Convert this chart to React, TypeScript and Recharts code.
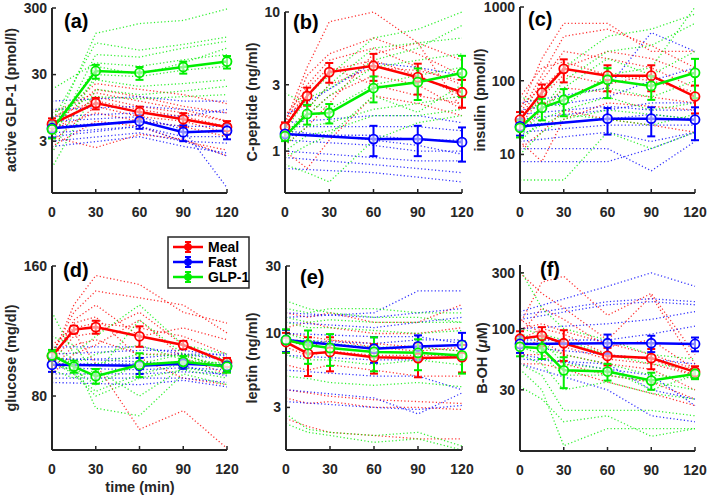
import React from "react";
import { LineChart, Line, XAxis, YAxis, ErrorBar } from "recharts";

type Num = number | null;

const RED = "#ff0000";
const BLUE = "#0000ff";
const GREEN = "#00ee00";
const AXIS = "#262626";
const FONT = "'Liberation Sans', Arial, Helvetica, sans-serif";

const X_TICKS = [0, 30, 60, 90, 120];
const timesA = [0, 30, 60, 90, 120];
const timesFull = [0, 15, 30, 60, 90, 120];

// (a) active GLP-1 (pmol/l)
const glp1MealMean = [5.4, 11.2, 8.2, 6.4, 4.9];
const glp1MealSem = [1.2, 2.2, 1.7, 1.5, 1.1];
const glp1FastMean = [4.7, null, 6.0, 4.1, 4.3];
const glp1FastSem = [1.3, null, 1.4, 1.1, 1.1];
const glp1InfMean = [4.5, 34, 32, 39, 47];
const glp1InfSem = [1.2, 8, 7, 8, 10];
const glp1MealSubj = [
  [6, 22, 18, 15, 11], [5, 18, 14, 10, 8], [4, 14, 10, 8, 6],
  [7, 12, 9, 7, 5], [3, 10, 7, 6, 4], [4.5, 8, 6, 5, 3.5],
  [2.5, 6, 5, 3, 2.2], [3.5, 2.4, 3.8, 3.2, 1.8], [8, 16, 12, 9, 6],
];
const glp1FastSubj = [
  [12, null, 14, 12, 12], [9, null, 10, 9, 8], [7, null, 8, 7, 9],
  [5, null, 6, 5, 5], [4, null, 5, 3.5, 3.5], [3, null, 4, 3, 2.8],
  [2.5, null, 3.5, 2.5, 2], [6, null, 7, 4.5, 0.6], [3.5, null, 5, 3, 1.8],
];
const glp1InfSubj = [
  [4, 125, 175, 195, 290], [6, 90, 70, 85, 110], [3, 60, 55, 75, 95],
  [18, 45, 40, 50, 60], [2, 30, 28, 35, 40], [5, 25, 20, 22, 25],
  [1.2, 18, 15, 17, 20], [8, 14, 13, 14, 15], [3.5, 40, 30, 45, 75],
];

// (b) C-peptide (ng/ml)
const cpepMealMean = [1.49, 2.49, 3.7, 4.1, 3.4, 2.65];
const cpepMealSem = [0.12, 0.37, 0.6, 0.9, 0.85, 0.6];
const cpepFastMean = [1.33, null, null, 1.22, 1.22, 1.16];
const cpepFastSem = [0.07, null, null, 0.3, 0.3, 0.32];
const cpepInfMean = [1.28, 1.85, 1.88, 2.84, 3.13, 3.64];
const cpepInfSem = [0.1, 0.3, 0.3, 0.6, 0.8, 1.2];
const cpepMealSubj = [
  [1.6, 4, 8.5, 10, 6, 4.5], [1.5, 3.5, 5, 6.5, 5, 3.5], [1.4, 3, 4.5, 5.5, 4, 3],
  [1.7, 2.5, 3.8, 4.5, 3.5, 2.5], [1.2, 2, 3, 4, 3.8, 3.2], [1.3, 1.8, 2.5, 3.5, 3, 2],
  [1.0, 0.75, 1.2, 2.5, 2.2, 1.8], [1.8, 2.8, 4, 3, 2.5, 2.2], [1.1, 1.5, 2.2, 5, 6, 2],
];
const cpepFastSubj = [
  [1.8, null, null, 4.3, 4, 3.5], [1.6, null, null, 1.8, 1.8, 1.6], [1.5, null, null, 1.5, 1.5, 1.4],
  [1.3, null, null, 1.3, 1.2, 1.2], [1.2, null, null, 1.1, 1.0, 1.0], [1.0, null, null, 0.9, 0.85, 0.85],
  [0.9, null, null, 0.8, 0.75, 0.7], [0.75, null, null, 0.7, 0.65, 0.6], [1.4, null, null, 1.2, 1.1, 0.95],
];
const cpepInfSubj = [
  [1.5, 2.5, 3.5, 6.5, 7.5, 10], [1.3, 2, 3, 5.5, 6, 6.5], [1.2, 1.8, 2.5, 4, 4.5, 5],
  [2.6, 2.2, 2, 3, 3.5, 4], [1.1, 1.5, 1.6, 2, 2.2, 2.5], [1.0, 1.3, 1.4, 1.8, 1.8, 2],
  [0.8, 0.7, 0.6, 1.2, 1.6, 1.8], [1.4, 2.4, 2.8, 4.5, 5.5, 8], [0.9, 1.1, 1.3, 2.5, 1.9, 3],
];

// (c) insulin (pmol/l)
const insMealMean = [29.6, 69, 145, 117, 117, 61];
const insMealSem = [8, 20, 50, 45, 45, 25];
const insFastMean = [24, null, null, 30.6, 30.6, 29.6];
const insFastSem = [6, null, null, 12, 13, 14];
const insInfMean = [23, 43, 55, 103, 85, 128];
const insInfSem = [6, 14, 22, 45, 30, 70];
const insMealSubj = [
  [40, 200, 600, 600, 250, 250], [35, 120, 400, 500, 300, 150], [30, 100, 250, 200, 150, 80],
  [60, 150, 180, 120, 100, 70], [25, 60, 120, 90, 120, 60], [20, 40, 80, 70, 60, 50],
  [15, 8, 30, 50, 45, 40], [12, 20, 40, 30, 25, 20], [45, 80, 150, 250, 200, 120],
];
const insFastSubj = [
  [50, null, null, 80, 450, 250], [40, null, null, 60, 100, 150], [30, null, null, 40, 50, 50],
  [25, null, null, 30, 35, 30], [20, null, null, 25, 25, 25], [15, null, null, 20, 15, 20],
  [12, null, null, 12, 6, 15], [8, null, null, 8, 12, 20], [35, null, null, 45, 40, 40],
];
const insInfSubj = [
  [30, 60, 150, 400, 500, 800], [25, 40, 100, 250, 300, 600], [20, 35, 80, 200, 120, 250],
  [60, 50, 60, 80, 60, 100], [15, 30, 40, 60, 40, 50], [10, 20, 30, 40, 35, 30],
  [4.5, 4.5, 4.5, 20, 12, 20], [35, 50, 45, 120, 150, 1000], [18, 25, 35, 30, 25, 35],
];

// (d) glucose (mg/dl)
const glucMealMean = [98.9, 114, 115.5, 110, 105, 95.7];
const glucMealSem = [2, 2.3, 4, 6, 2.3, 2.3];
const glucFastMean = [94.5, null, null, 94, 95, 94];
const glucFastSem = [3.5, null, null, 4, 2.5, 2.5];
const glucInfMean = [99.3, 93.6, 88.9, 94.5, 96, 93.6];
const glucInfSem = [3, 3, 3.5, 6, 3, 3];
const glucMealSubj = [
  [98, 130, 152, 145, 125, 118], [100, 125, 140, 135, 130, 112], [95, 120, 130, 110, 115, 108],
  [105, 115, 118, 115, 110, 100], [96, 110, 112, 125, 105, 95], [92, 105, 108, 100, 100, 92],
  [100, 112, 95, 67, 74, 60.5], [102, 118, 122, 98, 88, 85], [90, 100, 105, 120, 98, 90],
];
const glucFastSubj = [
  [104, null, null, 104, 100, 100], [100, null, null, 102, 102, 99], [97, null, null, 98, 100, 97],
  [95, null, null, 95, 96, 94], [93, null, null, 92, 93, 92], [90, null, null, 90, 91, 90],
  [88, null, null, 88, 88, 86], [86, null, null, 85, 87, 84], [98, null, null, 96, 94, 89],
];
const glucInfSubj = [
  [125, 100, 110, 130, 105, 100], [110, 105, 90, 120, 100, 98], [100, 95, 100, 105, 97, 95],
  [95, 92, 85, 95, 100, 92], [98, 90, 82, 90, 95, 96], [105, 97, 75, 72, 90, 85],
  [92, 88, 92, 80, 93, 90], [100, 94, 95, 100, 99, 94], [96, 90, 80, 88, 92, 88],
];

// (e) leptin (ng/ml)
const lepMealMean = [8.7, 7.2, 7.4, 6.8, 6.7, 6.8];
const lepMealSem = [1.4, 2.2, 2.0, 1.6, 1.8, 1.5];
const lepFastMean = [9.0, null, null, 7.8, 8.1, 8.3];
const lepFastSem = [1.6, null, null, 1.6, 1.6, 1.8];
const lepInfMean = [9.0, 8.3, 7.9, 7.4, 7.3, 7.0];
const lepInfSem = [1.7, 2.2, 2.0, 2.0, 1.8, 1.8];
const lepMealSubj = [
  [14, 13, 14, 12, 12, 16], [11, 12, 11, 10, 10, 11], [9, 8, 9, 8, 7.5, 8],
  [8, 7, 7.5, 7, 7, 7], [6, 5.5, 6, 5.5, 5, 5], [4, 3.8, 3.6, 3.4, 3.3, 3.2],
  [3.5, 3.2, 3.3, 3, 3, 2.9], [2.5, 2.2, 2, 1.9, 1.8, 1.8], [10, 9.5, 9, 8.5, 8, 7.5],
];
const lepFastSubj = [
  [13, null, null, 14, 20, 20], [14, null, null, 13, 14, 15], [12, null, null, 11, 12, 13],
  [9, null, null, 8.5, 9, 9], [7, null, null, 6.5, 6.5, 7], [5.5, null, null, 5, 5, 4],
  [4, null, null, 3.5, 2.7, 3.8], [3.3, null, null, 3, 2.9, 3.1], [10, null, null, 9.5, 9.5, 8.5],
];
const lepInfSubj = [
  [17, 15, 14, 13, 13, 12], [15, 14, 15, 15, 14, 14], [12, 11, 11, 10.5, 10, 10.5],
  [10, 9, 8.5, 8, 8, 7.5], [7, 6.5, 6.5, 6, 6.5, 6], [5, 4.8, 4.5, 4.3, 4.5, 4.2],
  [2.7, 2.1, 2, 1.9, 2, 1.6], [2.3, 2, 1.9, 1.7, 1.8, 1.5], [13, 12, 12.5, 12, 12, 12],
];

// (f) B-OH (uM)
const bohMealMean = [82, 87, 75, 58.5, 56, 42.7];
const bohMealSem = [13, 16, 22, 10, 11, 5];
const bohFastMean = [74, null, null, 75, 75, 74];
const bohFastSem = [12, null, null, 14, 12, 10];
const bohInfMean = [70, 68, 44, 43, 36, 41];
const bohInfSem = [12, 13, 13, 7, 6, 4];
const bohMealSubj = [
  [110, 250, 280, 130, 200, 60], [300, 200, 150, 80, 190, 50], [90, 150, 120, 70, 80, 45],
  [80, 100, 90, 60, 55, 40], [70, 80, 60, 50, 45, 30], [60, 60, 50, 40, 35, 25],
  [50, 50, 45, 35, 28, 22], [120, 90, 70, 55, 50, 40], [100, 110, 95, 75, 60, 45],
];
const bohFastSubj = [
  [140, null, null, 230, 300, 230], [130, null, null, 170, 180, 170], [120, null, null, 160, 170, 160],
  [100, null, null, 110, 120, 140], [80, null, null, 80, 90, 105], [70, null, null, 60, 55, 50],
  [55, null, null, 50, 30, 25], [50, null, null, 30, 18, 16], [60, null, null, 45, 40, 22],
];
const bohInfSubj = [
  [320, 150, 100, 80, 60, 55], [100, 90, 80, 60, 50, 45], [80, 70, 60, 50, 40, 38],
  [70, 60, 40, 40, 35, 30], [60, 50, 30, 35, 28, 25], [50, 40, 20, 20, 20, 18],
  [32, 25, 16, 18, 12, 14], [45, 30, 10, 14, 14, 14], [90, 80, 50, 45, 30, 40],
];

interface PanelSpec {
  times: number[];
  meal: Num[]; mealSem: Num[];
  fast: Num[]; fastSem: Num[];
  inf: Num[]; infSem: Num[];
  mealSubj: Num[][]; fastSubj: Num[][]; infSubj: Num[][];
  domain: [number, number];
  yTicks: number[];
  left: number; top: number; width: number; height: number;
}

const panels: PanelSpec[] = [
  { times: timesA, meal: glp1MealMean, mealSem: glp1MealSem, fast: glp1FastMean, fastSem: glp1FastSem,
    inf: glp1InfMean, infSem: glp1InfSem, mealSubj: glp1MealSubj, fastSubj: glp1FastSubj, infSubj: glp1InfSubj,
    domain: [0.5, 300], yTicks: [3, 30, 300], left: 52, top: 8, width: 175, height: 185 },
  { times: timesFull, meal: cpepMealMean, mealSem: cpepMealSem, fast: cpepFastMean, fastSem: cpepFastSem,
    inf: cpepInfMean, infSem: cpepInfSem, mealSubj: cpepMealSubj, fastSubj: cpepFastSubj, infSubj: cpepInfSubj,
    domain: [0.5, 10], yTicks: [1, 3, 10], left: 285, top: 12, width: 177, height: 181 },
  { times: timesFull, meal: insMealMean, mealSem: insMealSem, fast: insFastMean, fastSem: insFastSem,
    inf: insInfMean, infSem: insInfSem, mealSubj: insMealSubj, fastSubj: insFastSubj, infSubj: insInfSubj,
    domain: [3, 1000], yTicks: [10, 100, 1000], left: 520, top: 7, width: 175, height: 186 },
  { times: timesFull, meal: glucMealMean, mealSem: glucMealSem, fast: glucFastMean, fastSem: glucFastSem,
    inf: glucInfMean, infSem: glucInfSem, mealSubj: glucMealSubj, fastSubj: glucFastSubj, infSubj: glucInfSubj,
    domain: [60, 160], yTicks: [80, 160], left: 52, top: 266, width: 175, height: 184 },
  { times: timesFull, meal: lepMealMean, mealSem: lepMealSem, fast: lepFastMean, fastSem: lepFastSem,
    inf: lepInfMean, infSem: lepInfSem, mealSubj: lepMealSubj, fastSubj: lepFastSubj, infSubj: lepInfSubj,
    domain: [1.5, 30], yTicks: [3, 10, 30], left: 286, top: 266, width: 176, height: 184 },
  { times: timesFull, meal: bohMealMean, mealSem: bohMealSem, fast: bohFastMean, fastSem: bohFastSem,
    inf: bohInfMean, infSem: bohInfSem, mealSubj: bohMealSubj, fastSubj: bohFastSubj, infSubj: bohInfSubj,
    domain: [9, 350], yTicks: [30, 100, 300], left: 520, top: 265, width: 175, height: 186 },
];

const buildRows = (p: PanelSpec) =>
  p.times.map((t, i) => {
    const row: Record<string, Num> = { t };
    row.meal = p.meal[i];
    row.mealErr = p.mealSem[i];
    row.fast = p.fast[i];
    row.fastErr = p.fastSem[i];
    row.inf = p.inf[i];
    row.infErr = p.infSem[i];
    p.mealSubj.forEach((s, k) => (row[`m${k}`] = s[i]));
    p.fastSubj.forEach((s, k) => (row[`f${k}`] = s[i]));
    p.infSubj.forEach((s, k) => (row[`g${k}`] = s[i]));
    return row;
  });

const YTick = (props: any) => {
  const { x, y, payload } = props;
  return (
    <g>
      <line x1={x} x2={x + 4} y1={y} y2={y} stroke={AXIS} strokeWidth={1.5} />
      <text x={x - 5} y={y} dy="0.35em" textAnchor="end" fontFamily={FONT} fontWeight="bold" fontSize={14} fill={AXIS}>
        {payload.value}
      </text>
    </g>
  );
};

const XTick = (props: any) => {
  const { x, y, payload } = props;
  return (
    <g>
      <line x1={x} x2={x} y1={y} y2={y - 4} stroke={AXIS} strokeWidth={1.5} />
      <text x={x} y={y + 19} dy="0.35em" textAnchor="middle" fontFamily={FONT} fontWeight="bold" fontSize={14} fill={AXIS}>
        {payload.value}
      </text>
    </g>
  );
};

const subjLines = (prefix: string, count: number, color: string) =>
  Array.from({ length: count }, (_, k) => (
    <Line
      key={`${prefix}${k}`}
      dataKey={`${prefix}${k}`}
      stroke={color}
      strokeWidth={1.3}
      strokeOpacity={0.8}
      strokeDasharray="1.2 2.3"
      dot={false}
      activeDot={false}
      connectNulls
      isAnimationActive={false}
    />
  ));

const meanLine = (key: string, color: string) => (
  <Line
    dataKey={key}
    stroke={color}
    strokeWidth={2.5}
    dot={{ r: 4.5, stroke: color, strokeWidth: 1.8, fill: "#ffffff", fillOpacity: 0.55 }}
    activeDot={false}
    connectNulls
    isAnimationActive={false}
  >
    <ErrorBar dataKey={`${key}Err`} direction="y" width={4} stroke={color} strokeWidth={2} isAnimationActive={false} />
  </Line>
);

const Panel = ({ spec }: { spec: PanelSpec }) => {
  const rows = buildRows(spec);
  return (
    <div style={{ position: "absolute", left: spec.left - 50, top: spec.top - 10 }}>
      <LineChart
        width={spec.width + 75}
        height={spec.height + 45}
        data={rows}
        margin={{ top: 10, right: 25, bottom: 0, left: 0 }}
      >
        <XAxis
          dataKey="t"
          type="number"
          domain={[0, 120]}
          ticks={X_TICKS}
          interval={0}
          height={35}
          tickSize={0}
          tickMargin={0}
          tickLine={false}
          tick={<XTick />}
          axisLine={{ stroke: AXIS, strokeWidth: 2 }}
        />
        <YAxis
          type="number"
          scale="log"
          domain={spec.domain}
          ticks={spec.yTicks}
          interval={0}
          width={50}
          tickSize={0}
          tickMargin={0}
          tickLine={false}
          tick={<YTick />}
          axisLine={{ stroke: AXIS, strokeWidth: 2 }}
        />
        {subjLines("m", spec.mealSubj.length, RED)}
        {subjLines("f", spec.fastSubj.length, BLUE)}
        {subjLines("g", spec.infSubj.length, GREEN)}
        {meanLine("meal", RED)}
        {meanLine("fast", BLUE)}
        {meanLine("inf", GREEN)}
      </LineChart>
    </div>
  );
};

const yLabels = [
  { x: 11, y: 100, text: "active GLP-1 (pmol/l)" },
  { x: 252, y: 102, text: "C-peptide (ng/ml)" },
  { x: 480, y: 100, text: "insulin (pmol/l)" },
  { x: 11, y: 358, text: "glucose (mg/dl)" },
  { x: 252, y: 358, text: "leptin (ng/ml)" },
];

const letters = [
  { x: 64, y: 28, text: "(a)" },
  { x: 293, y: 29, text: "(b)" },
  { x: 528, y: 26, text: "(c)" },
  { x: 63, y: 277, text: "(d)" },
  { x: 300, y: 284, text: "(e)" },
  { x: 540, y: 276, text: "(f)" },
];

const legendItems = [
  { label: "Meal", color: RED },
  { label: "Fast", color: BLUE },
  { label: "GLP-1", color: GREEN },
];

const Overlay = () => (
  <svg width={709} height={498} style={{ position: "absolute", left: 0, top: 0, pointerEvents: "none" }}>
    <g fontFamily={FONT} fontWeight="bold" fill={AXIS}>
      {yLabels.map((l) => (
        <text key={l.text} x={l.x} y={l.y} dy="0.35em" fontSize={14.5} textAnchor="middle" transform={`rotate(-90 ${l.x} ${l.y})`}>
          {l.text}
        </text>
      ))}
      <text x={482} y={358} dy="0.35em" fontSize={14.5} textAnchor="middle" transform="rotate(-90 482 358)">
        B-OH (<tspan fontStyle="italic">μ</tspan>M)
      </text>
      {letters.map((l) => (
        <text key={l.text} x={l.x} y={l.y} fontSize={20} fill="#000">
          {l.text}
        </text>
      ))}
      <text x={140} y={492} fontSize={14.5} textAnchor="middle">
        time (min)
      </text>
    </g>
    <rect x={168} y={237} width={81} height={51} fill="#fff" stroke={AXIS} strokeWidth={1.5} />
    {legendItems.map((it, i) => {
      const cy = 247 + i * 15;
      return (
        <g key={it.label}>
          <line x1={173} x2={203} y1={cy} y2={cy} stroke={it.color} strokeWidth={2.5} />
          <line x1={188} x2={188} y1={cy - 5} y2={cy + 5} stroke={it.color} strokeWidth={2} />
          <line x1={185} x2={191} y1={cy - 5} y2={cy - 5} stroke={it.color} strokeWidth={2} />
          <line x1={185} x2={191} y1={cy + 5} y2={cy + 5} stroke={it.color} strokeWidth={2} />
          <circle cx={188} cy={cy} r={3.5} fill={it.color} stroke={it.color} />
          <text x={208} y={cy} dy="0.35em" fontFamily={FONT} fontWeight="bold" fontSize={14} fill="#000">
            {it.label}
          </text>
        </g>
      );
    })}
  </svg>
);

export default function App() {
  return (
    <div style={{ position: "absolute", left: 0, top: 0, width: 709, height: 498, background: "#fff" }}>
      {panels.map((p, i) => (
        <Panel key={i} spec={p} />
      ))}
      <Overlay />
    </div>
  );
}
